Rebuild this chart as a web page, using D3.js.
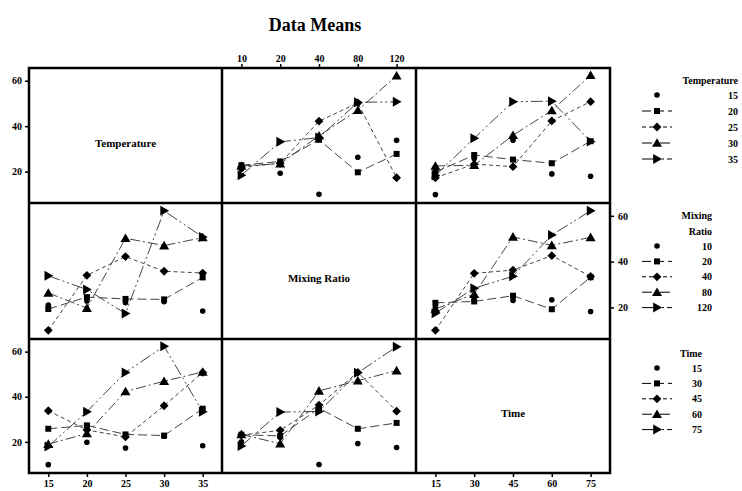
<!DOCTYPE html>
<html>
<head>
<meta charset="utf-8">
<script src="https://cdn.jsdelivr.net/npm/d3@7"></script>
<style>
  body { margin: 0; background: #fff; }
  text { font-family: "Liberation Serif", "DejaVu Serif", serif; font-weight: bold; }
</style>
</head>
<body>
<div id="chart"></div>
<script>
// factor levels
var temperature = ["15", "20", "25", "30", "35"];
var mixingRatio = ["10", "20", "40", "80", "120"];
var time = ["15", "30", "45", "60", "75"];
var yTicks = [20, 40, 60];

// data means: rows = Temperature, cols = Mixing Ratio
var meansTempMix = [
  [21, 19.3, 10, 26.3, 33.8],
  [22.8, 24.5, 34, 19.7, 27.8],
  [22, 23.7, 42.2, 50.2, 17.3],
  [22.5, 23.5, 35.8, 47, 62.2],
  [18.4, 33.1, 35, 50.5, 50.7]
];
// rows = Temperature, cols = Time
var meansTempTime = [
  [9.9, 25.8, 33.8, 19, 18],
  [19.8, 27.3, 25.3, 23.7, 33.4],
  [17.3, 23.3, 22.2, 42.3, 50.8],
  [22.5, 22.8, 36, 46.9, 62.4],
  [18.3, 34.7, 50.8, 51, 33.3]
];
// rows = Mixing Ratio, cols = Time
var meansMixTime = [
  [20, 23.2, 23, 23.3, 18.2],
  [22, 22.6, 25.1, 19.2, 33.2],
  [10, 34.9, 36.3, 42.6, 33.5],
  [19.3, 25.8, 50.8, 47.1, 50.6],
  [17.5, 28.4, 33.6, 51.6, 62.2]
];

var factors = [
  {name: "Temperature", title: ["Temperature"], levels: temperature},
  {name: "Mixing Ratio", title: ["Mixing", "Ratio"], levels: mixingRatio},
  {name: "Time", title: ["Time"], levels: time}
];

function transpose(m) {
  return m[0].map(function (_, j) { return m.map(function (row) { return row[j]; }); });
}

// means for lines of factor r plotted against factor c
function getMeans(r, c) {
  if (r == 0 && c == 1) return meansTempMix;
  if (r == 1 && c == 0) return transpose(meansTempMix);
  if (r == 0 && c == 2) return meansTempTime;
  if (r == 2 && c == 0) return transpose(meansTempTime);
  if (r == 1 && c == 2) return meansMixTime;
  return transpose(meansMixTime);
}

var W = 742, H = 491;
var colEdges = [29, 222, 416, 610];
var rowEdges = [68, 203, 339, 473];

var svg = d3.select("#chart")
  .append("svg")
  .attr("width", W)
  .attr("height", H);

// title
svg.append("text")
  .attr("x", 315)
  .attr("y", 31)
  .attr("text-anchor", "middle")
  .style("font-size", "18px")
  .text("Data Means");

function xScale(c) {
  return d3.scalePoint()
    .domain(factors[c].levels)
    .range([colEdges[c], colEdges[c + 1]])
    .padding(0.5);
}
function yScale(r) {
  return d3.scaleLinear()
    .domain([6.2, 65.6])
    .range([rowEdges[r + 1], rowEdges[r]]);
}

// marker shapes
var symbols = [
  function (s) { return s.append("circle").attr("r", 2.8); },
  function (s) { return s.append("rect").attr("x", -3).attr("y", -3).attr("width", 6).attr("height", 6); },
  function (s) { return s.append("path").attr("d", "M0,-4.4L4.4,0L0,4.4L-4.4,0Z"); },
  function (s) { return s.append("path").attr("d", "M0,-4.8L5,3.8L-5,3.8Z"); },
  function (s) { return s.append("path").attr("d", "M5,0L-3.8,-5L-3.8,5Z"); }
];
var dashes = [null, "9,4", "4,3", "10,3,2,3", "12,3,2,3,2,3"];

// panels
for (var r = 0; r < 3; r++) {
  for (var c = 0; c < 3; c++) {
    if (r == c) {
      svg.append("text")
        .attr("x", (colEdges[c] + colEdges[c + 1]) / 2)
        .attr("y", (rowEdges[r] + rowEdges[r + 1]) / 2 + 11)
        .attr("text-anchor", "middle")
        .style("font-size", "11px")
        .text(factors[r].name);
      continue;
    }
    var x = xScale(c), y = yScale(r);
    var means = getMeans(r, c);
    var levelsX = factors[c].levels;
    var g = svg.append("g");

    var line = d3.line()
      .x(function (d, i) { return x(levelsX[i]); })
      .y(function (d) { return y(d); });

    means.forEach(function (series, k) {
      if (k == 0) return; // first level drawn without a connecting line
      g.append("path")
        .datum(series)
        .attr("d", line)
        .attr("fill", "none")
        .attr("stroke", "#444")
        .attr("stroke-width", 1)
        .attr("stroke-dasharray", dashes[k]);
    });
    means.forEach(function (series, k) {
      series.forEach(function (v, i) {
        var m = g.append("g")
          .attr("transform", "translate(" + x(levelsX[i]) + "," + y(v) + ")");
        symbols[k](m).attr("fill", "#000");
      });
    });
  }
}

// axes
function styleAxis(a) {
  a.select(".domain").remove();
  a.selectAll(".tick line").attr("stroke", "#000").attr("stroke-width", 1.5);
  a.selectAll(".tick text").style("font-size", "10px").attr("fill", "#000");
}
[0, 2].forEach(function (r) {
  svg.append("g")
    .attr("transform", "translate(" + colEdges[0] + ",0)")
    .call(d3.axisLeft(yScale(r)).tickValues(yTicks).tickSize(4).tickPadding(3))
    .call(styleAxis);
});
svg.append("g")
  .attr("transform", "translate(" + colEdges[3] + ",0)")
  .call(d3.axisRight(yScale(1)).tickValues(yTicks).tickSize(4).tickPadding(4))
  .call(styleAxis);
svg.append("g")
  .attr("transform", "translate(0," + rowEdges[0] + ")")
  .call(d3.axisTop(xScale(1)).tickSize(4).tickPadding(2))
  .call(styleAxis);
[0, 2].forEach(function (c) {
  svg.append("g")
    .attr("transform", "translate(0," + rowEdges[3] + ")")
    .call(d3.axisBottom(xScale(c)).tickSize(4).tickPadding(3))
    .call(styleAxis);
});

// frame
var frame = svg.append("g")
  .attr("stroke", "#000")
  .attr("stroke-width", 2.5)
  .attr("fill", "none");
frame.append("rect")
  .attr("x", colEdges[0]).attr("y", rowEdges[0])
  .attr("width", colEdges[3] - colEdges[0])
  .attr("height", rowEdges[3] - rowEdges[0]);
[1, 2].forEach(function (i) {
  frame.append("line")
    .attr("x1", colEdges[i]).attr("x2", colEdges[i])
    .attr("y1", rowEdges[0]).attr("y2", rowEdges[3]);
  frame.append("line")
    .attr("x1", colEdges[0]).attr("x2", colEdges[3])
    .attr("y1", rowEdges[i]).attr("y2", rowEdges[i]);
});

// legends, one per row
var legendRight = [738, 712, 702];
var legendTop = [80, 215, 353];
var legendStep = [16, 15.4, 15.4];
factors.forEach(function (f, r) {
  var lg = svg.append("g");
  f.title.forEach(function (t, j) {
    lg.append("text")
      .attr("x", legendRight[r])
      .attr("y", legendTop[r] + j * 16)
      .attr("dy", "0.35em")
      .attr("text-anchor", "end")
      .style("font-size", "10px")
      .text(t);
  });
  var y0 = legendTop[r] + f.title.length * 16 - 1;
  f.levels.forEach(function (lev, k) {
    var yy = y0 + k * legendStep[r];
    if (k > 0) {
      lg.append("line")
        .attr("x1", 642).attr("x2", 672)
        .attr("y1", yy).attr("y2", yy)
        .attr("stroke", "#000")
        .attr("stroke-width", 1)
        .attr("stroke-dasharray", dashes[k]);
    }
    var m = lg.append("g").attr("transform", "translate(657," + yy + ")");
    symbols[k](m).attr("fill", "#000");
    lg.append("text")
      .attr("x", legendRight[r])
      .attr("y", yy)
      .attr("dy", "0.35em")
      .attr("text-anchor", "end")
      .style("font-size", "10px")
      .text(lev);
  });
});
</script>
</body>
</html>
